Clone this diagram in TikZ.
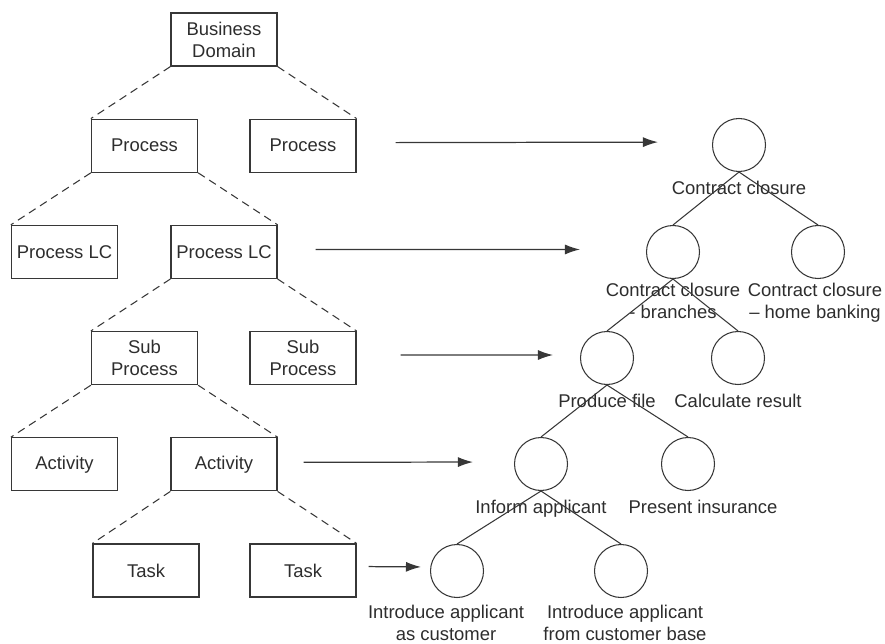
\documentclass[tikz,border=0pt]{standalone}
\usepackage{fontspec}
\setmainfont{Liberation Sans}
\usepackage{xcolor}
\usepackage{tikz}
\usetikzlibrary{arrows.meta, positioning, calc}
\definecolor{linegray}{RGB}{55, 55, 55}
\definecolor{textgray}{RGB}{45, 45, 45}

\begin{document}
\begin{tikzpicture}[
        font=\fontsize{10.5}{12.5}\selectfont,
        box/.style={draw=linegray, line width=0.7pt, minimum width=2.12cm, minimum height=1.06cm, align=center, text=textgray, inner sep=1pt},
        circ/.style={circle, draw=linegray, line width=0.6pt, minimum size=1.06cm, inner sep=0pt},
        lbl/.style={align=center, text=textgray, inner sep=2pt},
        lblone/.style={lbl, yshift=-3.2pt},
        lbltwo/.style={lbl, yshift=-2pt},
        link/.style={draw=linegray, line width=0.6pt, dash pattern=on 4.5pt off 3pt},
        tie/.style={draw=linegray, line width=0.6pt},
        arr/.style={draw=linegray, line width=0.7pt, -{Latex[length=3mm, width=2mm]}}
    ]
        \useasboundingbox (0,0) rectangle (17.7,-12.88);

        % Left tree of boxes
        \node[box] (domain) at (4.48,-0.79) {Business\\Domain};
        \node[box] (procA) at (2.89,-2.914) {Process};
        \node[box] (procB) at (6.06,-2.914) {Process};
        \node[box] (lcA) at (1.29,-5.038) {Process LC};
        \node[box] (lcB) at (4.48,-5.038) {Process LC};
        \node[box] (subA) at (2.89,-7.162) {Sub\\Process};
        \node[box] (subB) at (6.06,-7.162) {Sub\\Process};
        \node[box] (actA) at (1.29,-9.286) {Activity};
        \node[box] (actB) at (4.48,-9.286) {Activity};
        \node[box] (taskA) at (2.92,-11.41) {Task};
        \node[box] (taskB) at (6.06,-11.41) {Task};

        % Dashed links
        \draw[link] (domain.south west) -- (procA.north west);
        \draw[link] (domain.south east) -- (procB.north east);
        \draw[link] (procA.south west) -- (lcA.north west);
        \draw[link] (procA.south east) -- (lcB.north east);
        \draw[link] (lcB.south west) -- (subA.north west);
        \draw[link] (lcB.south east) -- (subB.north east);
        \draw[link] (subA.south west) -- (actA.north west);
        \draw[link] (subA.south east) -- (actB.north east);
        \draw[link] (actB.south west) -- (taskA.north west);
        \draw[link] (actB.south east) -- (taskB.north east);

        % Right tree of circles
        \node[circ, label={[lblone]below:Contract closure}] (closure) at (14.78,-2.90) {};
        \node[circ, label={[lbl]below:{Contract closure\\- branches}}] (branches) at (13.46,-5.04) {};
        \node[circ, label={[lbl, xshift=-0.06cm]below:{Contract closure\\– home banking}}] (homebank) at (16.36,-5.04) {};
        \node[circ, label={[lblone]below:Produce file}] (produce) at (12.14,-7.16) {};
        \node[circ, label={[lblone]below:Calculate result}] (calculate) at (14.76,-7.16) {};
        \node[circ, label={[lblone]below:Inform applicant}] (inform) at (10.82,-9.28) {};
        \node[circ, label={[lblone, xshift=0.3cm]below:Present insurance}] (present) at (13.76,-9.28) {};
        \node[circ, label={[lbltwo, xshift=-0.22cm]below:{Introduce applicant\\as customer}}] (introA) at (9.14,-11.42) {};
        \node[circ, label={[lbltwo, xshift=0.08cm]below:{Introduce applicant\\from customer base}}] (introB) at (12.42,-11.42) {};

        % Tree lines
        \draw[tie] (closure.south) -- (branches.north);
        \draw[tie] (closure.south) -- (homebank.north);
        \draw[tie] (branches.south) -- (produce.north);
        \draw[tie] (branches.south) -- (calculate.north);
        \draw[tie] (produce.south) -- (inform.north);
        \draw[tie] (produce.south) -- (present.north);
        \draw[tie] (inform.south) -- (introA.north);
        \draw[tie] (inform.south) -- (introB.north);

        % Mapping arrows
        \draw[arr, shorten <=0.78cm, shorten >=1.08cm] ([yshift=0.06cm]procB.east) -- ([yshift=0.06cm]closure.west);
        \draw[arr, shorten <=0.76cm, shorten >=1.32cm] ([yshift=0.05cm]lcB.east) -- ([yshift=0.05cm]branches.west);
        \draw[arr, shorten <=0.88cm, shorten >=0.54cm] ([yshift=0.06cm]subB.east) -- ([yshift=0.06cm]produce.west);
        \draw[arr, shorten <=0.52cm, shorten >=0.82cm] ([yshift=0.04cm]actB.east) -- ([yshift=0.04cm]inform.west);
        \draw[arr, shorten <=0.24cm, shorten >=0.18cm] ([yshift=0.08cm]taskB.east) -- ([yshift=0.08cm]introA.west);
    \end{tikzpicture}
\end{document}
